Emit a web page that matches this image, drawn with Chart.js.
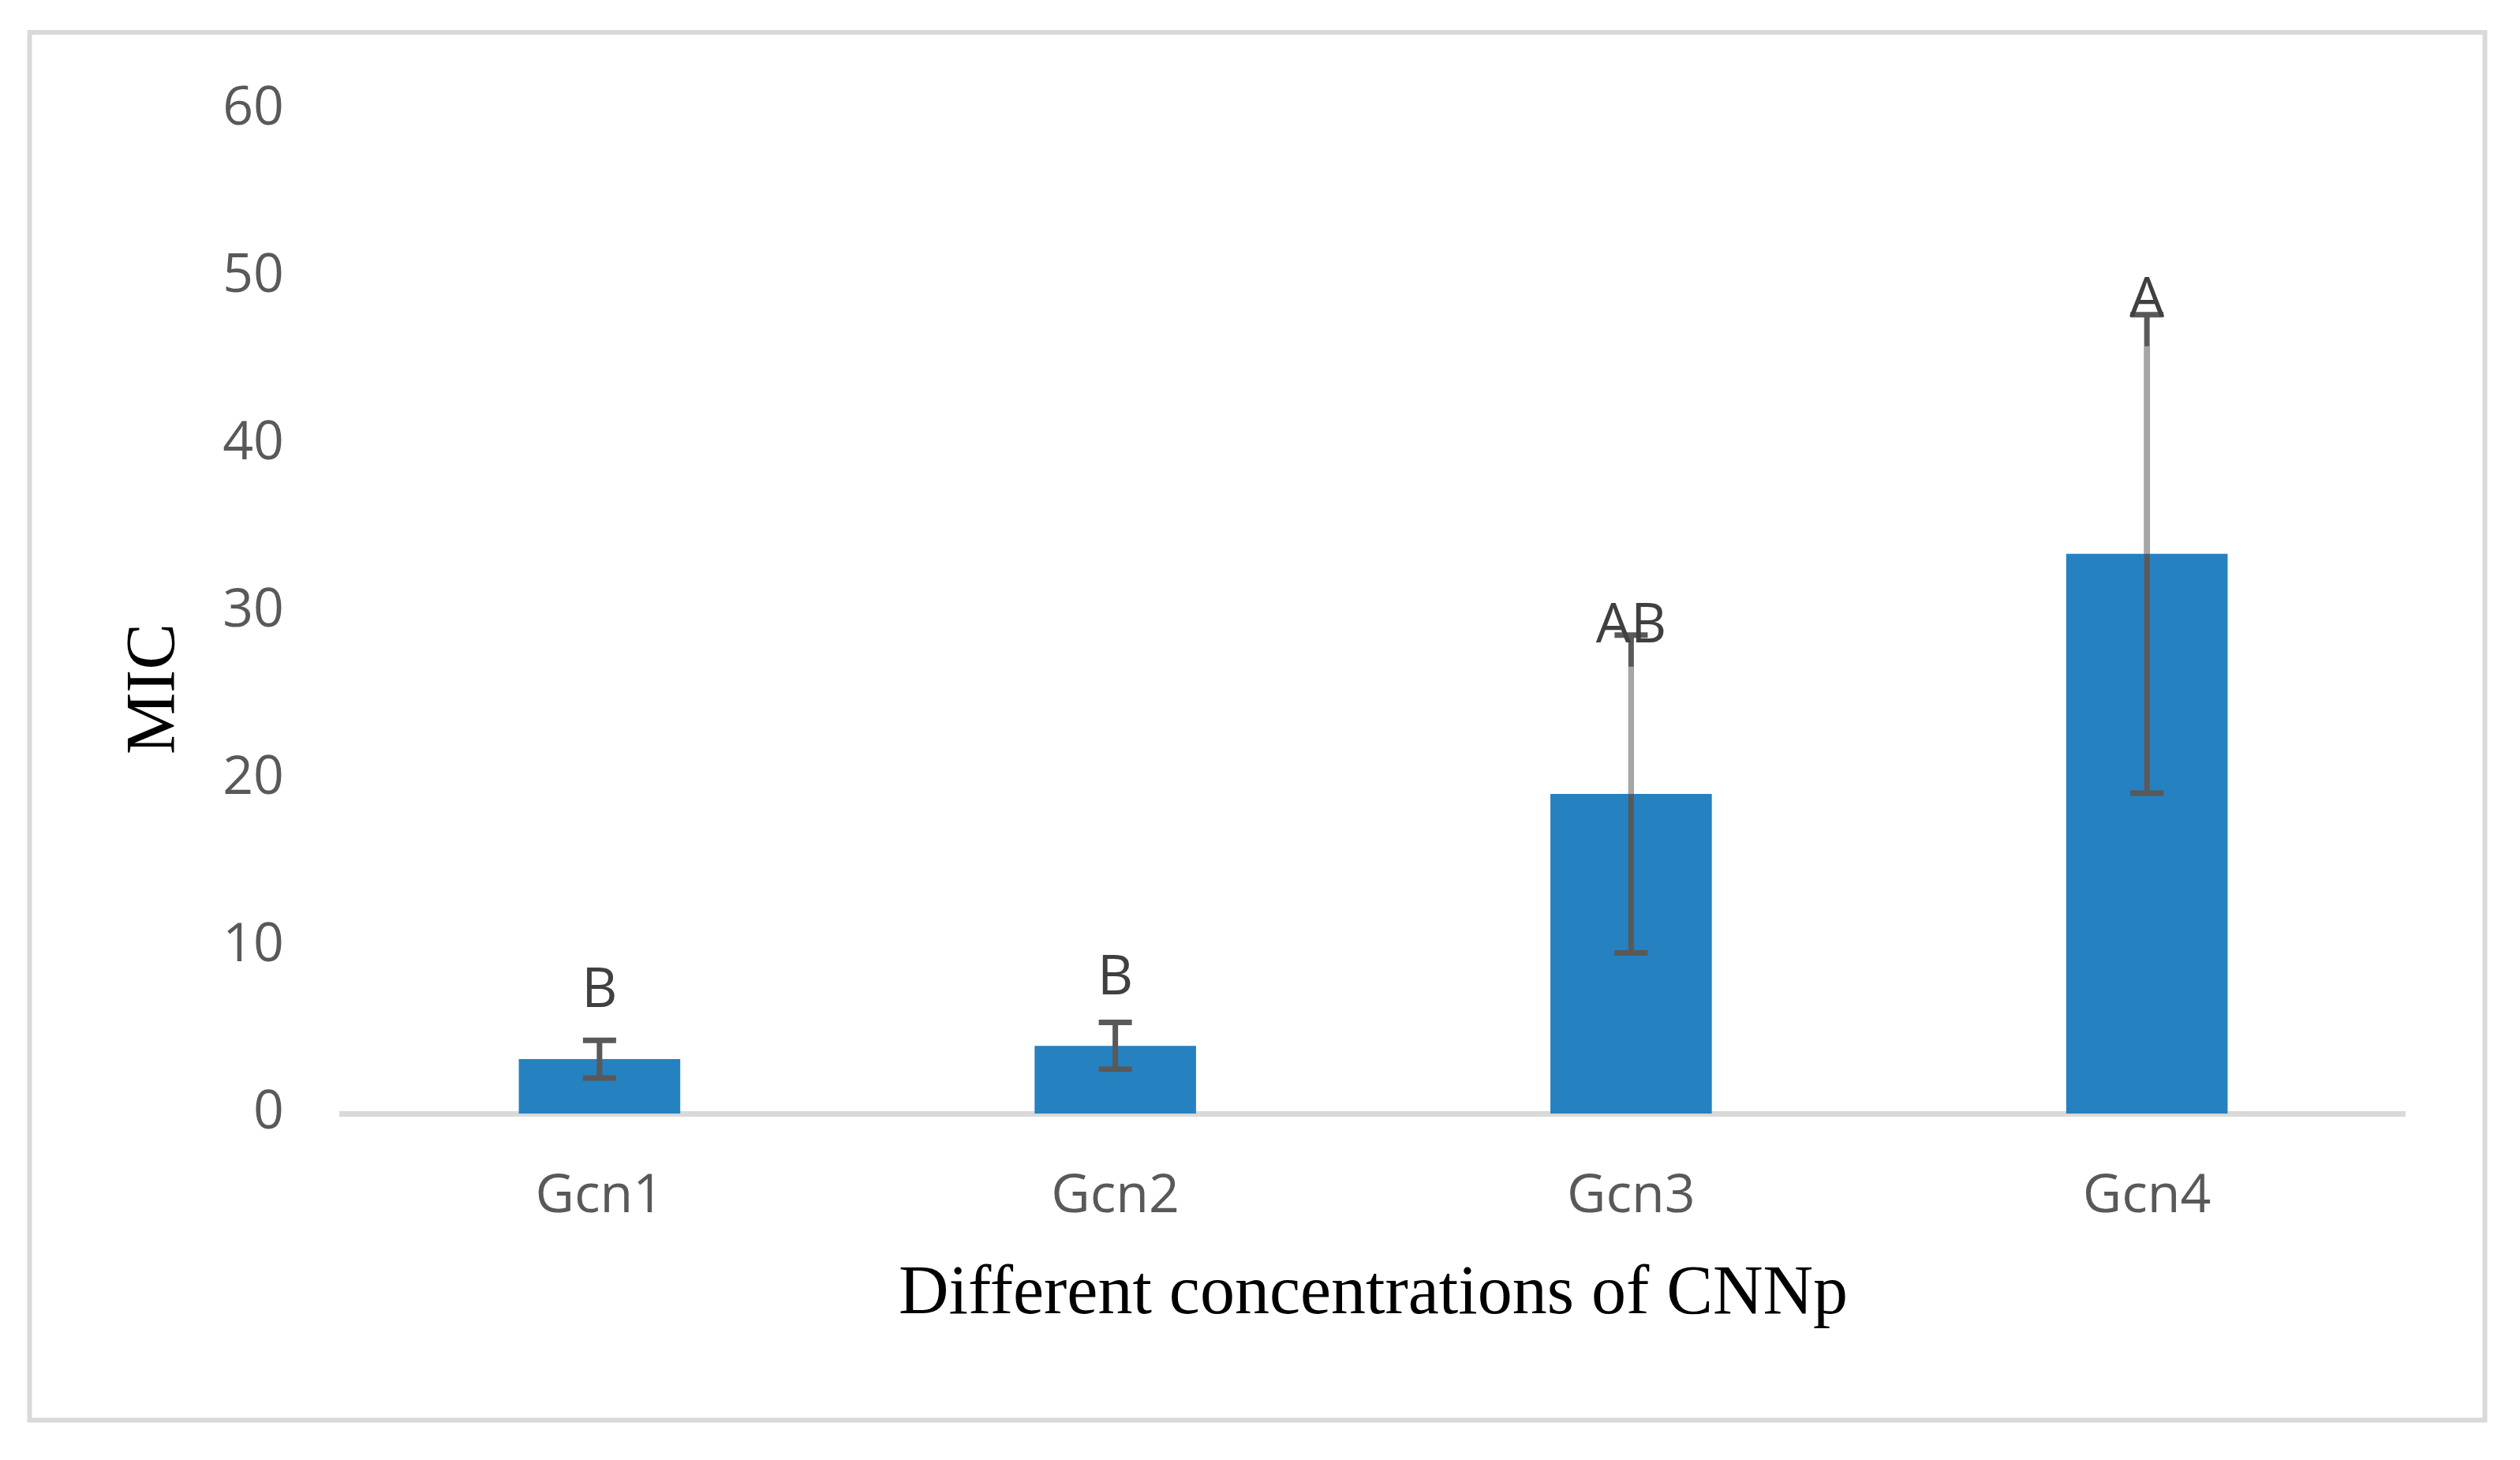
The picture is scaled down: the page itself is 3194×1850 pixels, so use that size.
<!DOCTYPE html>
<html>
<head>
<meta charset="utf-8">
<script src="https://cdn.jsdelivr.net/npm/chart.js@4.4.1/dist/chart.umd.min.js"></script>
<style>
  html, body { margin: 0; padding: 0; background: #ffffff; }
  canvas { display: block; }
</style>
</head>
<body>
<canvas id="micChart" width="3194" height="1850"></canvas>
<script>
// values
var groups = ["Gcn1", "Gcn2", "Gcn3", "Gcn4"];
var micMean = [3.25, 4.05, 19.1, 33.45];
var micErr = [1.13, 1.4, 9.5, 14.3];
var letters = ["B", "B", "AB", "A"];
var letterAt = [7.3, 8.05, 29.1, 48.6];   // value where each letter sits
var yTicks = [0, 10, 20, 30, 40, 50, 60];

var tickFont = { family: "'Open Sans', 'Noto Sans', sans-serif", size: 68 };
var titleFont = { family: "'Liberation Serif', 'Times New Roman', serif", size: 88 };

// frame, y title, error bars and letters
var extras = {
	id: "extras",
	beforeDraw: function (chart) {
		var ctx = chart.ctx;
		ctx.save();
		ctx.fillStyle = "#ffffff";
		ctx.fillRect(0, 0, chart.width, chart.height);
		ctx.strokeStyle = "#d9d9d9";
		ctx.lineWidth = 6;
		ctx.strokeRect(37.5, 41, 3112, 1758.5);
		// y axis title sits lower than the plot middle in the original
		ctx.translate(197, 873);
		ctx.rotate(-Math.PI / 2);
		ctx.fillStyle = "#000000";
		ctx.font = "88px 'Liberation Serif', 'Times New Roman', serif";
		ctx.textAlign = "center";
		ctx.textBaseline = "middle";
		ctx.fillText("MIC", 0, 0);
		ctx.restore();
	},
	afterDatasetsDraw: function (chart) {
		var ctx = chart.ctx;
		var y = chart.scales.y;
		var bars = chart.getDatasetMeta(0).data;
		ctx.save();
		bars.forEach(function (bar, i) {
			var x = bar.x;
			var top = y.getPixelForValue(micMean[i] + micErr[i]);
			var bot = y.getPixelForValue(micMean[i] - micErr[i]);
			var barTop = y.getPixelForValue(micMean[i]);
			ctx.strokeStyle = "#595959";
			ctx.lineWidth = 7;
			ctx.beginPath();
			ctx.moveTo(x, top);
			ctx.lineTo(x, bot);
			ctx.moveTo(x - 21, top);
			ctx.lineTo(x + 21, top);
			ctx.moveTo(x - 21, bot);
			ctx.lineTo(x + 21, bot);
			ctx.stroke();
			// the long stems above the bar come out lighter in the original
			if (barTop - top > 120) {
				ctx.strokeStyle = "#a6a6a6";
				ctx.beginPath();
				ctx.moveTo(x, top + 40);
				ctx.lineTo(x, barTop);
				ctx.stroke();
			}
		});
		ctx.fillStyle = "#404040";
		ctx.font = "70px 'Open Sans', 'Noto Sans', sans-serif";
		ctx.textAlign = "center";
		ctx.textBaseline = "middle";
		bars.forEach(function (bar, i) {
			ctx.fillText(letters[i], bar.x, y.getPixelForValue(letterAt[i]));
		});
		ctx.restore();
	}
};

var chart = new Chart(document.getElementById("micChart"), {
	type: "bar",
	data: {
		labels: groups,
		datasets: [{
			label: "MIC",
			data: micMean,
			backgroundColor: "#2681c1",
			borderWidth: 0,
			categoryPercentage: 1,
			barPercentage: 0.313
		}]
	},
	options: {
		responsive: false,
		animation: false,
		devicePixelRatio: 1,
		layout: { padding: { left: 144, right: 146, top: 139, bottom: 156 } },
		plugins: { legend: { display: false }, tooltip: { enabled: false } },
		scales: {
			x: {
				grid: { display: false, drawTicks: false },
				border: { display: true, color: "#d9d9d9", width: 7 },
				ticks: { color: "#595959", font: tickFont, padding: 65 },
				title: { display: true, text: "Different concentrations of CNNp", color: "#000000", font: titleFont, padding: 0 },
				afterFit: function (scale) { scale.height = 283; }
			},
			y: {
				min: 0,
				max: 60,
				afterBuildTicks: function (scale) {
					scale.ticks = yTicks.map(function (v) { return { value: v }; });
				},
				grid: { display: false, drawTicks: false },
				border: { display: false },
				ticks: { color: "#595959", font: tickFont, padding: 73 },
				afterFit: function (scale) { scale.width = 289; }
			}
		}
	},
	plugins: [extras]
});
</script>
</body>
</html>
